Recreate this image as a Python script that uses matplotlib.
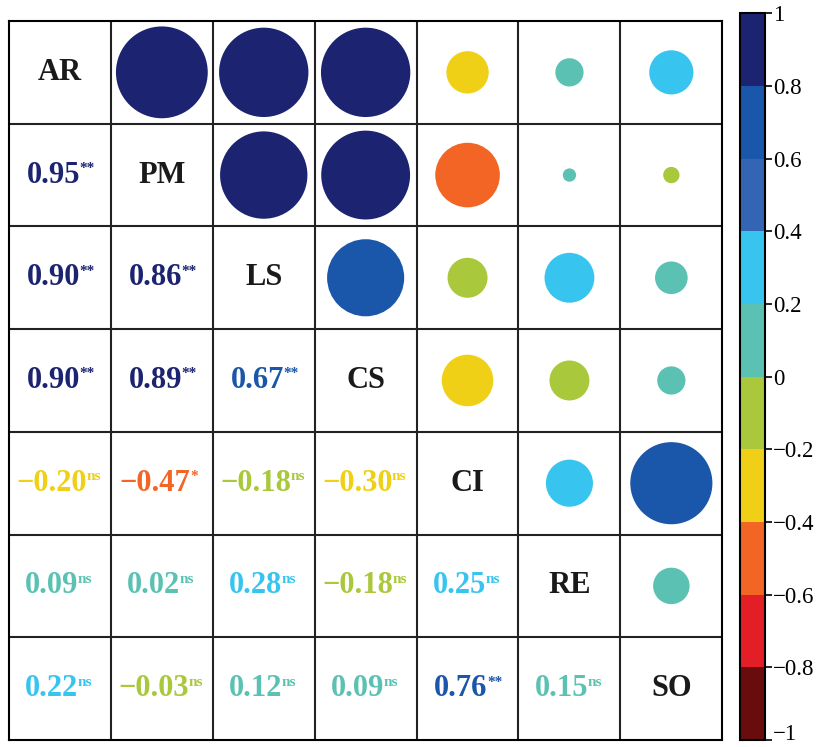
import numpy as np
import matplotlib.pyplot as plt
from matplotlib.colors import ListedColormap, BoundaryNorm
from matplotlib.transforms import ScaledTranslation

plt.rcParams['font.family'] = ['Liberation Serif', 'DejaVu Serif']

# variables and correlation values (lower triangle)
labels = ['AR', 'PM', 'LS', 'CS', 'CI', 'RE', 'SO']
pairs = [
    # (row, col, r, significance)
    (1, 0, 0.95, '**'),
    (2, 0, 0.90, '**'), (2, 1, 0.86, '**'),
    (3, 0, 0.90, '**'), (3, 1, 0.89, '**'), (3, 2, 0.67, '**'),
    (4, 0, -0.202, 'ns'), (4, 1, -0.47, '*'), (4, 2, -0.18, 'ns'), (4, 3, -0.30, 'ns'),
    (5, 0, 0.09, 'ns'), (5, 1, 0.02, 'ns'), (5, 2, 0.28, 'ns'), (5, 3, -0.18, 'ns'), (5, 4, 0.25, 'ns'),
    (6, 0, 0.22, 'ns'), (6, 1, -0.03, 'ns'), (6, 2, 0.12, 'ns'), (6, 3, 0.09, 'ns'), (6, 4, 0.76, '**'),
    (6, 5, 0.15, 'ns'),
]

bin_colors = ['#680c0e', '#e31e26', '#f26524', '#f0d016', '#a9c83b',
              '#5bc2b3', '#37c5f0', '#3465b4', '#1a56aa', '#1c2471']
bounds = np.linspace(-1, 1, 11)
cmap = ListedColormap(bin_colors)
norm = BoundaryNorm(bounds, cmap.N)

n = len(labels)
fig = plt.figure(figsize=(8.18, 7.47), dpi=100)
ax = fig.add_axes([0.011, 0.0094, 0.872, 0.9625])
ax.set_xlim(0, n)
ax.set_ylim(n, 0)
ax.set_xticks([])
ax.set_yticks([])
for s in ax.spines.values():
    s.set_linewidth(1.5)
for k in range(1, n):
    ax.axhline(k, color='#222222', lw=1.5)
    ax.axvline(k, color='#222222', lw=1.5)

# diagonal labels
for i, lab in enumerate(labels):
    ax.text(i + 0.5, i + 0.5, lab, ha='center', va='center',
            fontsize=22, fontweight='bold', color='#1a1a1a')

# upper triangle: circles, area proportional to |r|
xs = [c + 0.5 for r_, c, v, s in pairs]
ys = [r_ + 0.5 for r_, c, v, s in pairs]
vals = np.array([v for r_, c, v, s in pairs])
sc = ax.scatter(ys, xs, s=4600 * np.abs(vals), c=vals, cmap=cmap, norm=norm,
                edgecolors='none', zorder=3)

# lower triangle: coloured values with significance marks
for r_, c, v, sig in pairs:
    col = cmap(norm(v))
    txt = f'{v:.2f}'.replace('-', '\u2212')
    off = 0.08 if sig == 'ns' else 0.065
    t = ax.text(c + 0.5 - off, r_ + 0.5, txt, ha='center', va='center',
                fontsize=22, fontweight='bold', color=col)
    ax.annotate(sig, xy=(1.0, 1.0), xycoords=t, xytext=(-0.5, -1),
                textcoords='offset points', ha='left', va='top',
                fontsize=11, fontweight='bold', color=col)

# colourbar
cax = fig.add_axes([0.9046, 0.0094, 0.0306, 0.973])
cb = fig.colorbar(sc, cax=cax, boundaries=bounds, ticks=bounds)
cb.outline.set_linewidth(1.5)
cb.set_ticklabels(['\u22121', '\u22120.8', '\u22120.6', '\u22120.4', '\u22120.2', '0',
                   '0.2', '0.4', '0.6', '0.8', '1'])
cax.tick_params(labelsize=16.5, length=5, width=1.2, pad=1)
bottom_lab = cax.get_yticklabels()[0]
bottom_lab.set_transform(bottom_lab.get_transform() +
                         ScaledTranslation(0, 6 / 72, fig.dpi_scale_trans))

plt.savefig('out.png', dpi=100)
